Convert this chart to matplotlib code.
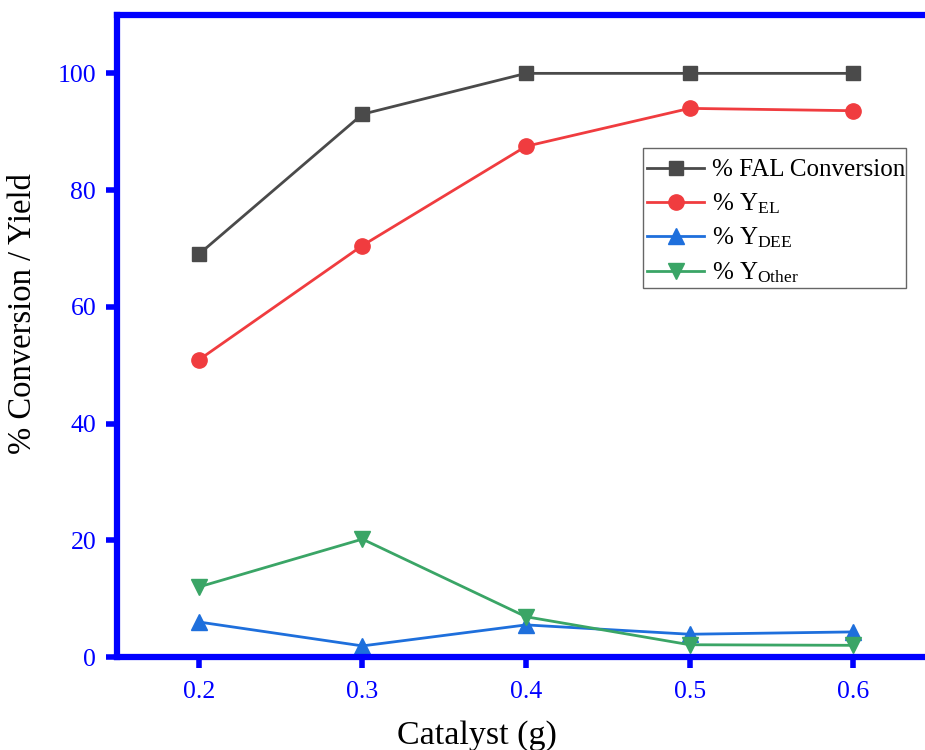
import matplotlib
matplotlib.use("Agg")
import matplotlib.pyplot as plt
from matplotlib.patches import Rectangle

catalyst = [0.2, 0.3, 0.4, 0.5, 0.6]
fal_conv = [69.0, 93.0, 100.0, 100.0, 100.0]
y_el = [50.9, 70.5, 87.5, 94.0, 93.6]
y_dee = [6.0, 1.9, 5.5, 3.9, 4.3]
y_other = [12.0, 20.2, 6.9, 2.1, 2.0]
xticks = [0.2, 0.3, 0.4, 0.5, 0.6]
yticks = [0, 20, 40, 60, 80, 100]

plt.rcParams['font.family'] = ['Liberation Serif', 'DejaVu Serif']
plt.rcParams['mathtext.fontset'] = 'custom'
plt.rcParams['mathtext.rm'] = 'Liberation Serif'
plt.rcParams['mathtext.it'] = 'Liberation Serif:italic'

W, H = 925, 750
fig = plt.figure(figsize=(W/100, H/100), dpi=100)
ax = fig.add_axes([117/W, 1-657/H, (935-117)/W, (657-15)/H])

blue = '#0000ff'
ax.plot(catalyst, fal_conv, color='#4a4a4a', marker='s', ms=10, lw=2, label='% FAL Conversion')
ax.plot(catalyst, y_el, color='#f03c3f', marker='o', ms=11, lw=2, label=r'% Y$_{\rm EL}$')
ax.plot(catalyst, y_dee, color='#1e6fdc', marker='^', ms=11, lw=2, label=r'% Y$_{\rm DEE}$')
ax.plot(catalyst, y_other, color='#3aa566', marker='v', ms=11, lw=2, label=r'% Y$_{\rm Other}$')

ax.set_xlim(0.15, 0.65)
ax.set_ylim(0, 110)
ax.set_xticks(xticks)
ax.set_xticklabels([f'{v:.1f}' for v in xticks])
ax.set_yticks(yticks)

for s in ax.spines.values():
    s.set_color(blue)
    s.set_linewidth(4.5)

ax.tick_params(axis='both', colors=blue, labelcolor=blue, width=4, length=8, labelsize=18.5, direction='out')
ax.tick_params(axis='x', pad=9)
ax.tick_params(axis='y', pad=7)

ax.set_xlabel('Catalyst (g)', fontsize=24.5, color='black')
ax.set_ylabel('% Conversion / Yield', fontsize=23.5, color='black')
ax.xaxis.set_label_coords((477-117)/818, -(720-657)/642)
ax.yaxis.set_label_coords((38-117)/818, (657-314)/642)

leg = ax.legend(loc='upper left', bbox_to_anchor=(643/W, 1-155/H), bbox_transform=fig.transFigure,
                fontsize=18, frameon=False, borderpad=0.15, labelspacing=0.4,
                handlelength=2.3, handletextpad=0.3, borderaxespad=0)
leg.set_zorder(6)
frame = Rectangle((643/W, 1-288/H), (906-643)/W, (288-148)/H, transform=fig.transFigure,
                  facecolor='white', edgecolor='#666666', linewidth=1.0, zorder=5, clip_on=False)
ax.add_patch(frame)

fig.savefig('out.png', dpi=100)
